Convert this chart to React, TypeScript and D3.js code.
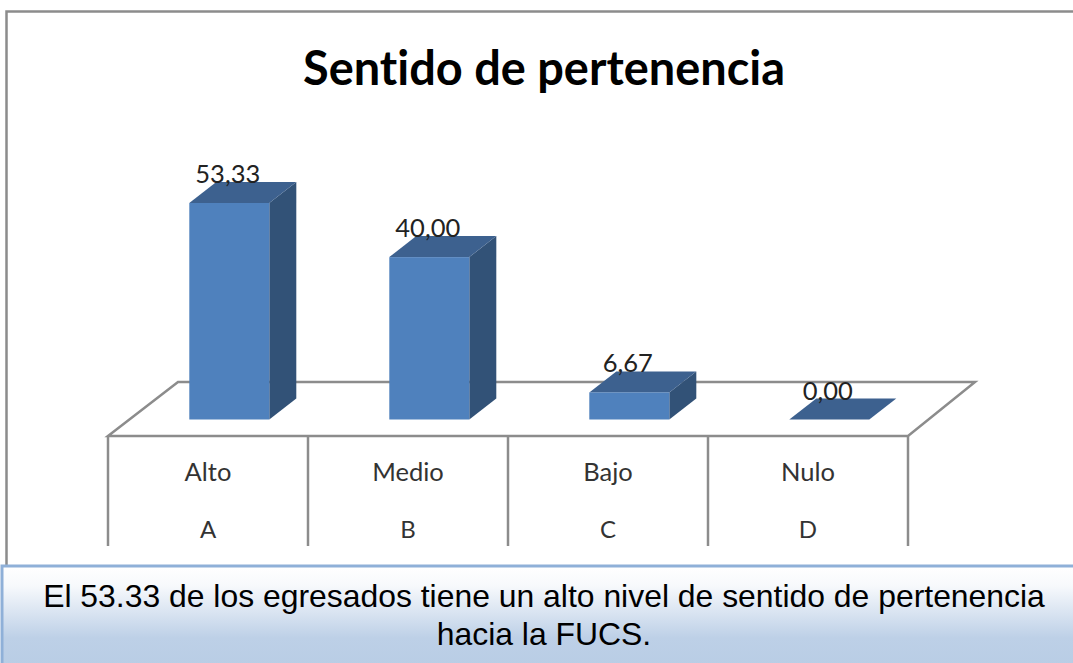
import React from "react";
import * as d3 from "d3";

const categories = ["Alto", "Medio", "Bajo", "Nulo"];
const letters = ["A", "B", "C", "D"];
const values = [53.33, 40.0, 6.67, 0.0];
const valueLabels = ["53,33", "40,00", "6,67", "0,00"];
const title = "Sentido de pertenencia";
const captionLines = [
  "El 53.33 de los egresados tiene un alto nivel de sentido de pertenencia",
  "hacia la FUCS.",
];

const W = 1073;
const H = 663;
const floorFrontY = 436;
const floorBackY = 382;
const baseY = 419.5;
const depthX = 27;
const depthY = 21;
const axisLeft = 108;
const axisRight = 908;
const gridBottom = 546;
const grey = "#8c8c8c";

export default function App() {
  const x = d3.scaleBand<string>().domain(categories).range([axisLeft, axisRight]);
  const y = d3.scaleLinear().domain([0, 53.33]).range([baseY, 203]);
  const barW = 80;
  const ticks = d3.range(categories.length + 1).map((i) => axisLeft + i * x.step());
  const chartFont = "Lato, 'Open Sans', sans-serif";
  return (
    <svg width={W} height={H} style={{ position: "absolute", left: 0, top: 0, display: "block" }}>
      <defs>
        <linearGradient id="cap" x1="0" y1="0" x2="0" y2="1">
          <stop offset="0" stopColor="#ffffff" />
          <stop offset="0.2" stopColor="#f7f9fc" />
          <stop offset="0.72" stopColor="#bdd0e7" />
          <stop offset="1" stopColor="#b9cde5" />
        </linearGradient>
      </defs>
      <rect width={W} height={H} fill="#fff" />
      <path d={`M${W},11.5H6.5V566`} fill="none" stroke={grey} strokeWidth={2.5} />
      <text x={544} y={85} textAnchor="middle" fontFamily={chartFont} fontWeight={700} fontSize={47} fill="#000" textLength={482} lengthAdjust="spacingAndGlyphs" style={{ fontVariantLigatures: "none" }}>
        {title}
      </text>

      {/* floor */}
      <path
        d={`M${axisLeft},${floorFrontY}L178,${floorBackY}H975L${axisRight},${floorFrontY}Z`}
        fill="#fff"
        stroke={grey}
        strokeWidth={2.5}
      />
      {ticks.map((t) => (
        <line key={t} x1={t} x2={t} y1={floorFrontY} y2={gridBottom} stroke={grey} strokeWidth={2.5} />
      ))}

      {/* bars */}
      {categories.map((c, i) => {
        const center = (x(c) as number) + x.bandwidth() / 2;
        const x0 = center - 18.7;
        const x1 = x0 + barW;
        const top = y(values[i]);
        return (
          <g key={c}>
            <path
              d={`M${x1},${top}L${x1 + depthX},${top - depthY}V${baseY - depthY}L${x1},${baseY}Z`}
              fill="#325277"
            />
            <path
              d={`M${x0},${top}L${x0 + depthX},${top - depthY}H${x1 + depthX}L${x1},${top}Z`}
              fill="#3d618f"
            />
            {values[i] > 0 && <rect x={x0} y={top} width={barW} height={baseY - top} fill="#4f81bd" />}
            <text x={x0 + 38.5} y={top - 20} textAnchor="middle" fontFamily={chartFont} fontSize={25.5} fill="#222">
              {valueLabels[i]}
            </text>
            <text x={center} y={481} textAnchor="middle" fontFamily={chartFont} fontSize={25.5} fill="#333">
              {c}
            </text>
            <text x={center} y={538} textAnchor="middle" fontFamily={chartFont} fontSize={24} fill="#333">
              {letters[i]}
            </text>
          </g>
        );
      })}

      {/* caption */}
      <rect x={2} y={566} width={W + 10} height={100} fill="url(#cap)" stroke="#8fb0d8" strokeWidth={3} />
      {captionLines.map((l, i) => (
        <text key={i} x={544} y={607 + i * 38} textAnchor="middle" fontFamily="'Liberation Sans', Arial, sans-serif" fontSize={31.9} fill="#000">
          {l}
        </text>
      ))}
    </svg>
  );
}
